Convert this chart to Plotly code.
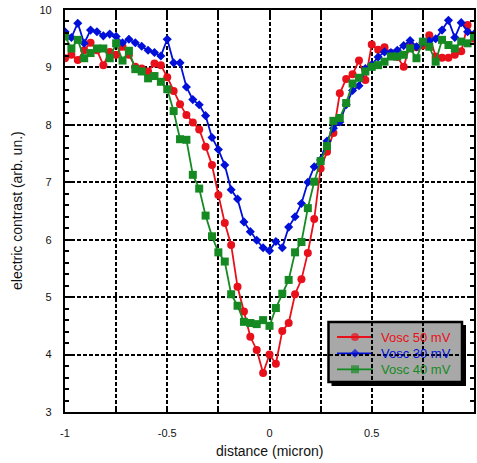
import plotly.graph_objects as go

distance = [-1, -0.96875, -0.9375, -0.90625, -0.875, -0.84375, -0.8125, -0.78125,
            -0.75, -0.71875, -0.6875, -0.65625, -0.625, -0.59375, -0.5625, -0.53125,
            -0.5, -0.46875, -0.4375, -0.40625, -0.375, -0.34375, -0.3125, -0.28125,
            -0.25, -0.21875, -0.1875, -0.15625, -0.125, -0.09375, -0.0625, -0.03125,
            0, 0.03125, 0.0625, 0.09375, 0.125, 0.15625, 0.1875, 0.21875,
            0.25, 0.28125, 0.3125, 0.34375, 0.375, 0.40625, 0.4375, 0.46875,
            0.5, 0.53125, 0.5625, 0.59375, 0.625, 0.65625, 0.6875, 0.71875,
            0.75, 0.78125, 0.8125, 0.84375, 0.875, 0.90625, 0.9375, 0.96875, 1]

vosc50 = [9.16, 9.22, 9.13, 9.30, 9.43, 9.30, 9.04, 9.27, 9.22, 9.36, 9.22, 9.01, 8.98,
          8.93, 9.07, 9.04, 8.83, 8.59, 8.36, 8.17, 8.04, 7.92, 7.62, 7.30, 6.78, 6.29,
          5.91, 5.18, 4.75, 4.31, 4.08, 3.68, 4.00, 3.84, 4.41, 4.55, 5.05, 5.31, 5.77,
          6.36, 7.24, 7.53, 7.86, 8.55, 8.80, 8.88, 9.12, 8.78, 9.40, 9.31, 9.35, 9.25,
          9.18, 9.01, 9.40, 9.35, 9.38, 9.56, 9.19, 9.17, 9.17, 9.22, 9.28, 9.74, 9.50]

vosc30 = [9.62, 9.52, 9.77, 9.42, 9.65, 9.62, 9.55, 9.58, 9.54, 9.43, 9.49, 9.43, 9.37,
          9.30, 9.26, 9.20, 9.49, 9.08, 9.08, 8.66, 8.44, 8.35, 8.16, 7.78, 7.57, 7.30,
          6.87, 6.71, 6.31, 6.14, 5.99, 5.86, 5.81, 5.97, 5.86, 6.22, 6.40, 6.63, 7.00,
          7.27, 7.39, 7.72, 7.94, 8.05, 8.35, 8.60, 8.68, 8.98, 9.05, 9.18, 9.27, 9.26,
          9.30, 9.38, 9.47, 9.36, 9.44, 9.46, 9.50, 9.65, 9.82, 9.52, 9.78, 9.62, 9.58]

vosc40 = [9.54, 9.33, 9.48, 9.16, 9.25, 9.33, 9.33, 9.16, 9.42, 9.12, 9.29, 8.97, 8.93,
          8.81, 8.85, 8.75, 8.62, 8.24, 7.75, 7.74, 7.13, 6.89, 6.42, 6.06, 5.78, 5.62,
          5.05, 4.85, 4.57, 4.55, 4.53, 4.60, 4.50, 4.81, 5.06, 5.30, 5.78, 5.96, 6.55,
          7.01, 7.37, 7.63, 8.07, 8.12, 8.38, 8.72, 8.82, 8.93, 9.01, 9.04, 9.10, 9.19,
          9.19, 9.22, 9.33, 9.16, 9.45, 9.36, 9.10, 9.48, 9.39, 9.33, 9.45, 9.42, 9.54]

x_tickvals = [-1, -0.75, -0.5, -0.25, 0, 0.25, 0.5, 0.75, 1]
x_ticktext = ["-1", "", "-0.5", "", "0", "", "0.5", "", "1"]
y_tickvals = [3, 4, 5, 6, 7, 8, 9, 10]
legend_names = ["Vosc 50 mV", "Vosc 30 mV", "Vosc 40 mV"]

RED = "#e8101a"
BLUE = "#0010d8"
GREEN = "#158a22"
FONT = "Liberation Sans, Arial"

W, H = 477, 463
ML, MR, MT, MB = 65, 3, 10, 51
PW, PH = W - ML - MR, H - MT - MB


def fx(px):
    return (px - ML) / PW


def fy(py):
    return (H - MB - py) / PH


series = [
    (legend_names[0], vosc50, RED, "circle", 8),
    (legend_names[1], vosc30, BLUE, "diamond", 7),
    (legend_names[2], vosc40, GREEN, "square", 8),
]

fig = go.Figure()
for name, ys, col, sym, sz in series:
    fig.add_trace(go.Scatter(
        x=distance, y=ys, mode="lines+markers", name=name, showlegend=False,
        line=dict(color=col, width=1.8),
        marker=dict(color=col, symbol=sym, size=sz, line=dict(width=0)),
    ))

# ---- hand-built legend (box with shadow) ----
shapes = [
    dict(type="rect", xref="paper", yref="paper", layer="between",
         x0=fx(331.5), x1=fx(466), y0=fy(325), y1=fy(386),
         fillcolor="black", line=dict(width=0)),
    dict(type="rect", xref="paper", yref="paper", layer="between",
         x0=fx(328.5), x1=fx(462), y0=fy(322), y1=fy(382),
         fillcolor="#a8a8a8", line=dict(color="black", width=2.5)),
]
annotations = []
item_y = [337, 353.3, 369.3]
leg_x, leg_y, leg_c, leg_s, leg_z = [], [], [], [], []
for (name, ys, col, sym, sz), py in zip(series, item_y):
    shapes.append(dict(
        type="line", xref="paper", yref="paper", layer="between",
        x0=fx(337), x1=fx(373), y0=fy(py), y1=fy(py),
        line=dict(color=col, width=1.8),
    ))
    leg_x.append(fx(355))
    leg_y.append(fy(py))
    leg_c.append(col)
    leg_s.append(sym)
    leg_z.append(sz)
    annotations.append(dict(
        x=fx(379), y=fy(py), xref="paper", yref="paper", text=name,
        showarrow=False, xanchor="left", yanchor="middle",
        font=dict(family=FONT, size=13, color=col),
    ))

fig.add_trace(go.Scatter(
    x=leg_x, y=leg_y, xaxis="x2", yaxis="y2", mode="markers",
    marker=dict(color=leg_c, symbol=leg_s, size=leg_z, line=dict(width=0)),
    showlegend=False, hoverinfo="skip", cliponaxis=False,
))

# axis titles
annotations.append(dict(
    x=0.5, y=fy(451), xref="paper", yref="paper", text="distance (micron)",
    showarrow=False, xanchor="center", yanchor="middle",
    font=dict(family=FONT, size=14, color="#111"),
))
annotations.append(dict(
    x=fx(17), y=0.5, xref="paper", yref="paper", text="electric contrast (arb. un.)",
    showarrow=False, xanchor="center", yanchor="middle", textangle=-90,
    font=dict(family=FONT, size=14, color="#111"),
))

axis_common = dict(
    showline=True, linecolor="black", linewidth=2.2, mirror="ticks",
    ticks="inside", tickcolor="black", tickwidth=1.5, ticklen=6,
    showgrid=True, gridcolor="black", gridwidth=1.5, griddash="4px,2px",
    zeroline=False, automargin=False,
    tickfont=dict(family=FONT, size=11, color="#111"),
)

fig.update_layout(
    xaxis=dict(range=[-1, 1], tickvals=x_tickvals, ticktext=x_ticktext,
               ticklabelstandoff=10, **axis_common),
    yaxis=dict(range=[3, 10], tickvals=y_tickvals,
               minor=dict(dtick=0.2, ticks="inside", ticklen=4,
                          tickcolor="black", showgrid=False),
               ticklabelstandoff=9, **axis_common),
    xaxis2=dict(overlaying="x", range=[0, 1], autorange=False, visible=False,
                fixedrange=True),
    yaxis2=dict(overlaying="y", range=[0, 1], autorange=False, visible=False,
                fixedrange=True),
    shapes=shapes, annotations=annotations,
    width=W, height=H, autosize=False,
    margin=dict(l=ML, r=MR, t=MT, b=MB),
    plot_bgcolor="white", paper_bgcolor="white",
    showlegend=False,
)

fig.write_html(
    "out.html",
    config={"responsive": False, "displayModeBar": False},
    post_script="document.body.style.margin='0';document.body.style.padding='0';"
                "document.body.style.overflow='hidden';",
)
